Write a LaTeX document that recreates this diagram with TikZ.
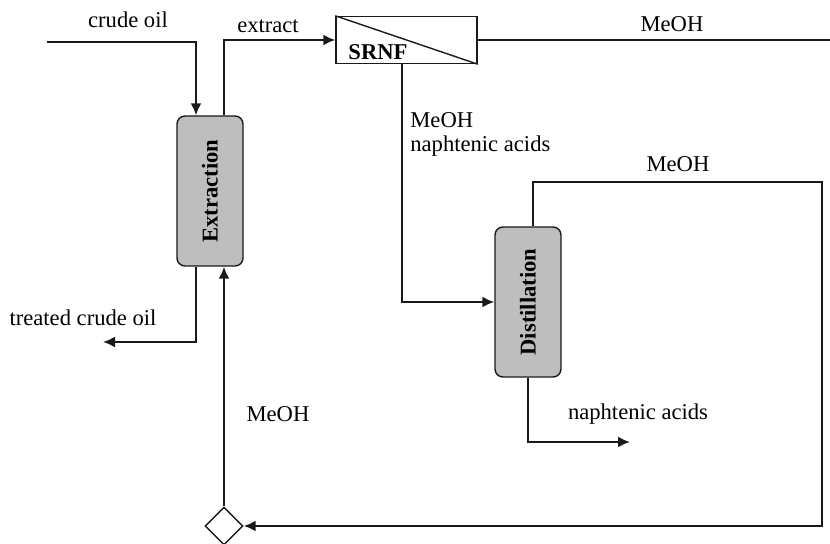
\documentclass[tikz,border=0pt]{standalone}
\usepackage{fontspec}
\setmainfont{Liberation Serif}
\usepackage{tikz}
\usetikzlibrary{calc,arrows.meta,shapes.geometric}
\definecolor{unitc}{HTML}{BEBEBE}
\definecolor{linec}{HTML}{1A1A1A}

\begin{document}
\begin{tikzpicture}[x=0.5pt, y=-0.5pt, font=\fontsize{11.3}{12}\selectfont,
    flow/.style={draw=linec, line width=1pt, -{Latex[length=6pt,width=5.5pt]}},
    pipe/.style={draw=linec, line width=1pt},
    unit/.style={draw=linec, line width=0.7pt, fill=unitc, rounded corners=4pt,
                 minimum width=33pt, minimum height=75pt, inner sep=0pt, font=\fontsize{11.3}{12}\selectfont\bfseries}]
  \useasboundingbox (0,0) rectangle (830,544);
  % units
  \node[unit] (ext) at (210,191) {\rotatebox{90}{Extraction}};
  \node[unit] (dist) at (528,302) {\rotatebox{90}{Distillation}};
  \node[draw=linec, line width=0.7pt, fill=white, minimum width=70.5pt, minimum height=23.5pt, inner sep=0pt] (srnf) at (406.5,40) {};
  \draw[linec, line width=0.7pt] (srnf.north west) -- (srnf.south east);
  \node[font=\fontsize{11.3}{12}\selectfont\bfseries] (srnflab) at (378,52) {SRNF};
  \node[diamond, draw=linec, line width=0.7pt, fill=white, minimum width=19pt, minimum height=19pt, inner sep=0pt] (mix) at (224,526) {};
  % stream ends
  \coordinate (crude) at (47,42);
  \coordinate (meohout) at (830,40);
  \coordinate (treated) at (103,342);
  \coordinate (acids) at (630,442);
  \coordinate (loopc) at (822,182);
  % streams
  \draw[flow] (crude) -| ([xshift=-7pt]ext.north);
  \draw[flow] ([xshift=7pt]ext.north) |- (srnf.west);
  \draw[pipe] (srnf.east) -- (meohout);
  \draw[flow] ([xshift=-2.25pt]srnf.south) |- (dist.west);
  \draw[flow] ([xshift=2.5pt]dist.north) |- (loopc) |- (mix.east);
  \draw[flow] (dist.south) |- (acids);
  \draw[flow] ([xshift=-7pt]ext.south) |- (treated);
  \draw[flow] (mix.north) -- ([xshift=7pt]ext.south);
  % labels
  \node (lcrude) at (128,20) {crude oil};
  \node (lextract) at (268,26) {extract};
  \node (lmeohtop) at (672,24) {MeOH};
  \node[anchor=west, align=left, inner sep=0pt] (lperm) at (410,134) {MeOH\\naphtenic acids};
  \node (lmeohloop) at (678,164) {MeOH};
  \node (ltreated) at (83,318) {treated crude oil};
  \node (lmeohret) at (278,414) {MeOH};
  \node (lacids) at (638,414) {naphtenic acids};
\end{tikzpicture}
\end{document}
